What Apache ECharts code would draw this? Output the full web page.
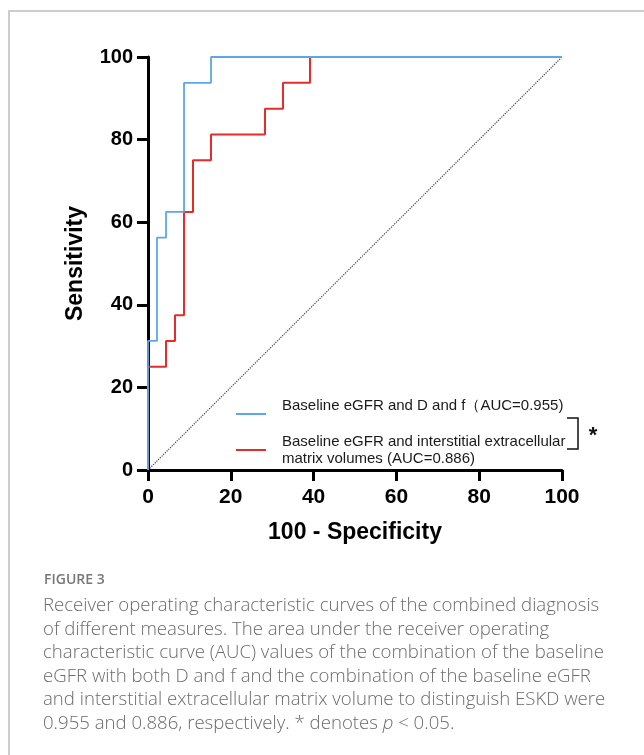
<!DOCTYPE html>
<html>
<head>
<meta charset="utf-8">
<script src="https://cdn.jsdelivr.net/npm/echarts@6/dist/echarts.min.js"></script>
<style>
html,body{margin:0;padding:0;background:#fff;}
#chart{width:644px;height:755px;}
</style>
</head>
<body>
<div id="chart"></div>
<script>
// ROC curve corner points (x = 100 - Specificity, y = Sensitivity)
const blueName = 'Baseline eGFR and D and f\uFF08AUC=0.955)';
const redName = 'Baseline eGFR and interstitial extracellular\nmatrix volumes (AUC=0.886)';
const blueX = [0, 0, 2.17, 2.17, 4.35, 4.35, 8.70, 8.70, 15.22, 15.22, 100];
const blueY = [0, 31.25, 31.25, 56.25, 56.25, 62.5, 62.5, 93.75, 93.75, 100, 100];
const redX = [0, 0, 4.35, 4.35, 6.52, 6.52, 8.70, 8.70, 10.87, 10.87, 15.22, 15.22, 28.26, 28.26, 32.61, 32.61, 39.13, 39.13, 100];
const redY = [0, 25, 25, 31.25, 31.25, 37.5, 37.5, 62.5, 62.5, 75, 75, 81.25, 81.25, 87.5, 87.5, 93.75, 93.75, 100, 100];
const refX = [0, 100];
const refY = [0, 100];
const xTicks = [0, 20, 40, 60, 80, 100];
const yTicks = [0, 20, 40, 60, 80, 100];

const zip = (xs, ys) => xs.map((x, i) => [x, ys[i]]);
const FONT = '"Liberation Sans", Arial, sans-serif';
const CAP_FONT = '"Open Sans", sans-serif';

const chart = echarts.init(document.getElementById('chart'), null, {renderer: 'canvas'});

const axisCommon = {
  type: 'value',
  min: 0,
  max: 100,
  interval: 20,
  axisLine: {show: true, onZero: false, lineStyle: {color: '#000', width: 3}},
  axisTick: {show: true, inside: false, length: 11, lineStyle: {color: '#000', width: 3}},
  splitLine: {show: false}
};

chart.setOption({
  animation: false,
  backgroundColor: '#fff',
  grid: {left: 148, right: 82, top: 57, bottom: 285, containLabel: false},
  xAxis: Object.assign({}, axisCommon, {
    name: '100 - Specificity',
    nameLocation: 'middle',
    nameGap: 51,
    nameTextStyle: {fontSize: 23, fontWeight: 'bold', color: '#000', fontFamily: FONT},
    axisLabel: {fontSize: 21, fontWeight: 'bold', color: '#000', fontFamily: FONT, margin: 17,
      formatter: v => xTicks.includes(v) ? String(v) : ''}
  }),
  yAxis: Object.assign({}, axisCommon, {
    name: 'Sensitivity',
    nameLocation: 'middle',
    nameRotate: 90,
    nameGap: 61,
    nameTextStyle: {fontSize: 23, fontWeight: 'bold', color: '#000', fontFamily: FONT},
    axisLabel: {fontSize: 20, fontWeight: 'bold', color: '#000', fontFamily: FONT, margin: 15,
      formatter: v => yTicks.includes(v) ? String(v) : ''}
  }),
  legend: {
    orient: 'vertical',
    left: 236,
    top: 397,
    padding: 0,
    itemWidth: 30,
    itemHeight: 2,
    itemGap: 2,
    icon: 'rect',
    selectedMode: false,
    formatter: name => name === blueName ? name + '\n ' : name,
    textStyle: {fontSize: 15, fontFamily: FONT, color: '#1a1a1a', lineHeight: 17, padding: [0, 0, 0, 11]},
    data: [blueName, redName]
  },
  series: [
    {
      type: 'line', name: 'ref', data: zip(refX, refY), symbol: 'none', silent: true,
      lineStyle: {color: '#444', width: 1.2, type: 'dotted'}, clip: false, z: 1
    },
    {
      type: 'line', name: redName, data: zip(redX, redY), symbol: 'none',
      itemStyle: {color: '#e62b2b'},
      lineStyle: {color: '#e62b2b', width: 2}, clip: false, z: 3
    },
    {
      type: 'line', name: blueName, data: zip(blueX, blueY), symbol: 'none',
      itemStyle: {color: '#5ea6ea'},
      lineStyle: {color: '#5ea6ea', width: 1.8}, clip: false, z: 4
    }
  ],
  graphic: [
    {
      type: 'rect', silent: true, z: -10,
      shape: {x: 9, y: 11, width: 800, height: 900},
      style: {fill: 'none', stroke: '#bdbdbd', lineWidth: 1.5}
    },
    {
      type: 'polyline', silent: true,
      shape: {points: [[567, 418], [578, 418], [578, 449], [567, 449]]},
      style: {fill: 'none', stroke: '#111', lineWidth: 1.5}
    },
    {
      type: 'text', silent: true, x: 593, y: 436,
      style: {text: '*', fontSize: 22, fontWeight: 'bold', fontFamily: FONT, fill: '#111',
        align: 'center', verticalAlign: 'middle'}
    },
    {
      type: 'text', silent: true, x: 44, y: 573,
      style: {text: 'FIGURE 3', fontSize: 14, fontWeight: 600, fontFamily: CAP_FONT, fill: '#777'}
    },
    {
      type: 'text', silent: true, x: 43, y: 594,
      style: {
        text: 'Receiver operating characteristic curves of the combined diagnosis\n' +
              'of different measures. The area under the receiver operating\n' +
              'characteristic curve (AUC) values of the combination of the baseline\n' +
              'eGFR with both D and f and the combination of the baseline eGFR\n' +
              'and interstitial extracellular matrix volume to distinguish ESKD were\n' +
              '0.955 and 0.886, respectively. * denotes {i|p} < 0.05.',
        fontSize: 18.6, fontWeight: 300, fontFamily: CAP_FONT, fill: '#6b6b6b',
        lineHeight: 23.6,
        rich: {
          i: {fontSize: 18.6, fontWeight: 300, fontStyle: 'italic', fontFamily: CAP_FONT, fill: '#6b6b6b', lineHeight: 23.6}
        }
      }
    }
  ]
});
</script>
</body>
</html>
